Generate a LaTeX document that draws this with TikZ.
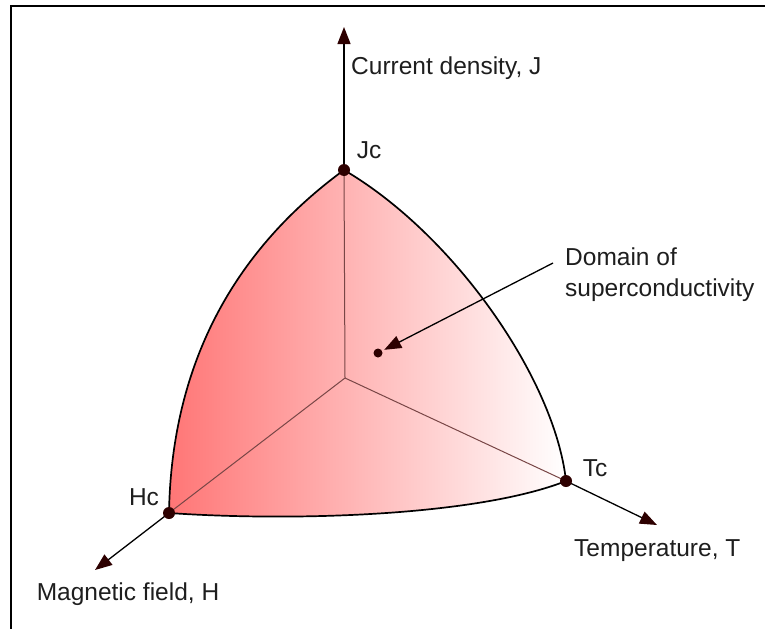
\documentclass[tikz,border=0pt]{standalone}
\usepackage{fontspec}
\setmainfont{Liberation Sans}
\usetikzlibrary{arrows.meta, positioning, calc}
\definecolor{tipred}{RGB}{45,0,0}
\definecolor{domred}{RGB}{255,118,118}
\definecolor{innerline}{RGB}{120,70,70}
\definecolor{txtgray}{RGB}{30,30,30}
\tikzset{
    axis/.style={draw=black, line width=1.3pt,
        -{Triangle[length=17pt, width=13pt, color=tipred]}},
    pointer/.style={axis, shorten >=7pt},
    inner/.style={draw=innerline, line width=1pt},
    lbl/.style={text=txtgray, font=\fontsize{24.5}{31}\selectfont, inner sep=1pt},
}

\begin{document}
\begin{tikzpicture}[x=1pt, y=-1pt]
    \useasboundingbox (0,0) rectangle (765,629);
    % \draw[help lines] (0,0) grid[step=50] (765,629);
    \draw[line width=2.5pt] (765,6) -- (11,6) -- (11,629);

    \coordinate (O)  at (345,378);
    \coordinate (Jc) at (344,170);
    \coordinate (Hc) at (169,513);
    \coordinate (Tc) at (566,481);
    \coordinate (Jend) at (344,27);
    \coordinate (Hend) at (95,570);
    \coordinate (Tend) at (657,525);

    % domain
    \shadedraw[left color=domred, right color=white, line width=1.7pt]
        (Jc) .. controls (455,235) and (555,380) .. (Tc)
             .. controls (480,515) and (300,522) .. (Hc)
             .. controls (172,340) and (255,235) .. (Jc) -- cycle;
    \draw[inner] (O) -- (Jc);
    \draw[inner] (O) -- (Hc);
    \draw[inner] (O) -- (Tc);

    % axes
    \draw[axis] (Jc) -- (Jend);
    \draw[axis] (Hc) -- (Hend);
    \draw[axis] (Tc) -- (Tend);
    \foreach \p in {Jc, Hc, Tc}
        \fill[tipred] (\p) circle (6pt);

    \node[lbl, anchor=west] (jaxis) at (350,68) {Current density, J};
    \node[lbl] (jclbl) at (369,150) {Jc};
    \node[lbl] (hclbl) at (144,497) {Hc};
    \node[lbl] (tclbl) at (595,468) {Tc};
    \node[lbl] (haxis) at (128,594) {Magnetic field, H};
    \node[lbl, anchor=west] (taxis) at (573,551) {Temperature, T};
    \node[lbl, anchor=west, align=left] (domain) at (564,275) {Domain of\\superconductivity};

    % pointer to the domain
    \coordinate (dot) at (378,353);
    \coordinate (ptr) at (553,263);
    \fill[tipred] (dot) circle (4.5pt);
    \draw[pointer] (ptr) -- (dot);
\end{tikzpicture}
\end{document}
